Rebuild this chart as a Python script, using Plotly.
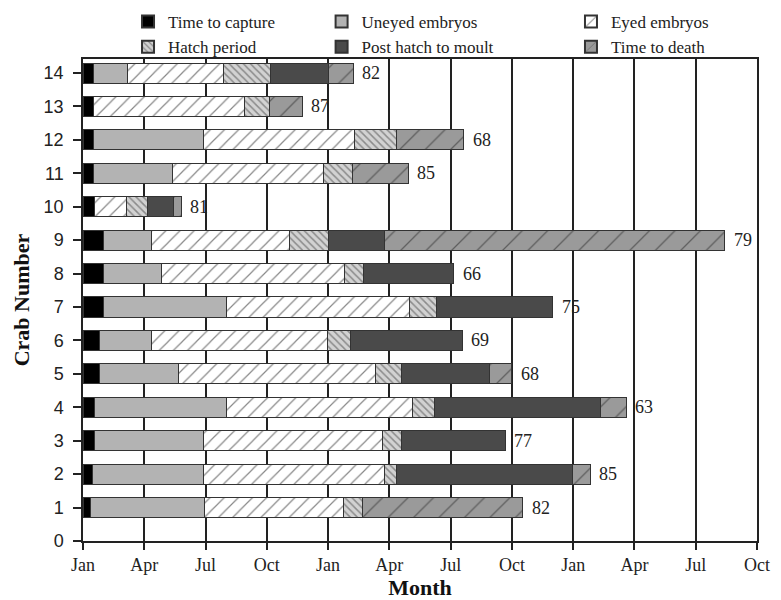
import plotly.graph_objects as go

crabs = [1, 2, 3, 4, 5, 6, 7, 8, 9, 10, 11, 12, 13, 14]
# durations in months for each stage (None = stage absent)
time_to_capture = [0.38, 0.46, 0.57, 0.57, 0.82, 0.82, 0.98, 0.98, 0.98, 0.57, 0.49, 0.49, 0.49, 0.49]
uneyed_embryos = [5.59, 5.46, 5.35, 6.46, 3.84, 2.53, 6.05, 2.86, 2.37, None, 3.89, 5.43, None, 1.68]
eyed_embryos = [6.78, 8.83, 8.75, 9.10, 9.64, 8.63, 8.95, 8.94, 6.78, 1.56, 7.38, 7.36, 7.40, 4.69]
hatch_period = [0.95, 0.61, 0.94, 1.08, 1.31, 1.14, 1.34, 0.95, 1.88, 1.01, 1.42, 2.05, 1.23, 2.33]
post_hatch = [None, 8.63, 5.06, 8.12, 4.28, 5.46, 5.67, 4.41, 2.74, 1.27, None, None, None, 2.82]
time_to_death = [7.82, 0.85, None, 1.26, 1.11, None, None, None, 16.67, 0.41, 2.75, 3.30, 1.62, 1.23]
end_labels = ["82", "85", "77", "63", "68", "69", "75", "66", "79", "81", "85", "68", "87", "82"]

tick_vals = [0, 3, 6, 9, 12, 15, 18, 21, 24, 27, 30, 33]
tick_text = ["Jan", "Apr", "Jul", "Oct", "Jan", "Apr", "Jul", "Oct", "Jan", "Apr", "Jul", "Oct"]

serif = "Liberation Serif"
sans = "Liberation Sans"
outline = dict(color="#333333", width=1)

series = [
    ("Time to capture", time_to_capture, dict(color="#000000", line=outline), "legend"),
    ("Uneyed embryos", uneyed_embryos, dict(color="#b3b3b3", line=outline), "legend2"),
    ("Eyed embryos", eyed_embryos,
     dict(color="#ffffff", line=outline,
          pattern=dict(shape="/", bgcolor="#ffffff", fgcolor="#111111", size=10, solidity=0.12)), "legend3"),
    ("Hatch period", hatch_period,
     dict(color="#cfcfcf", line=outline,
          pattern=dict(shape="\\", bgcolor="#d2d2d2", fgcolor="#444444", size=5, solidity=0.3)), "legend"),
    ("Post hatch to moult", post_hatch, dict(color="#4a4a4a", line=outline), "legend2"),
    ("Time to death", time_to_death,
     dict(color="#9a9a9a", line=outline,
          pattern=dict(shape="/", bgcolor="#9a9a9a", fgcolor="#222222", size=18, solidity=0.07)), "legend3"),
]

fig = go.Figure()
for name, vals, marker, lg in series:
    fig.add_trace(go.Bar(
        y=crabs, x=vals, name=f"<span style='font-family:{serif}'>{name}</span>",
        orientation="h", width=0.6,
        marker=marker, legend=lg, hovertemplate=f"{name}: %{{x:.2f}}<extra></extra>",
    ))

totals = []
for i in range(len(crabs)):
    s = 0.0
    for _, vals, _, _ in series:
        if vals[i] is not None:
            s += vals[i]
    totals.append(s)

for c, t, lab in zip(crabs, totals, end_labels):
    fig.add_annotation(x=t, y=c, text=lab, showarrow=False, xanchor="left",
                       yanchor="middle", xshift=7,
                       font=dict(family=serif, size=18, color="#222222"))

legend_common = dict(orientation="v", yanchor="top", xanchor="left", traceorder="normal",
                     font=dict(family=serif, size=17, color="#222222"),
                     bgcolor="rgba(0,0,0,0)", tracegroupgap=0, itemsizing="constant")

fig.update_layout(
    width=773, height=592,
    font=dict(family=serif, size=17, color="#222222"),
    margin=dict(l=75, r=24, t=51, b=59, autoexpand=False),
    barmode="stack",
    plot_bgcolor="white", paper_bgcolor="white",
    showlegend=True,
    legend=dict(x=0.0668, y=1.114, **legend_common),
    legend2=dict(x=0.354, y=1.114, **legend_common),
    legend3=dict(x=0.724, y=1.114, **legend_common),
    xaxis=dict(
        range=[0, 33], tickvals=tick_vals, ticktext=tick_text,
        showgrid=True, gridcolor="#222222", gridwidth=1.5,
        showline=True, linecolor="#222222", linewidth=1.5, mirror=True,
        ticks="outside", ticklen=7, tickcolor="#222222", tickwidth=1.5,
        tickfont=dict(family=serif, size=18, color="#222222"),
        title=dict(text="<b>Month</b>", font=dict(family=serif, size=22, color="#111111"), standoff=9),
        zeroline=False,
    ),
    yaxis=dict(
        range=[0, 14.42], tickvals=list(range(0, 15)),
        showgrid=False,
        showline=True, linecolor="#222222", linewidth=1.5, mirror=True,
        ticks="outside", ticklen=8, tickcolor="#222222", tickwidth=1.5,
        ticklabelstandoff=6,
        tickfont=dict(family=sans, size=18, color="#222222"),
        title=dict(text="<b>Crab Number</b>", font=dict(family=serif, size=22, color="#111111"), standoff=8),
        zeroline=False,
    ),
)

fig.write_html("out.html")
